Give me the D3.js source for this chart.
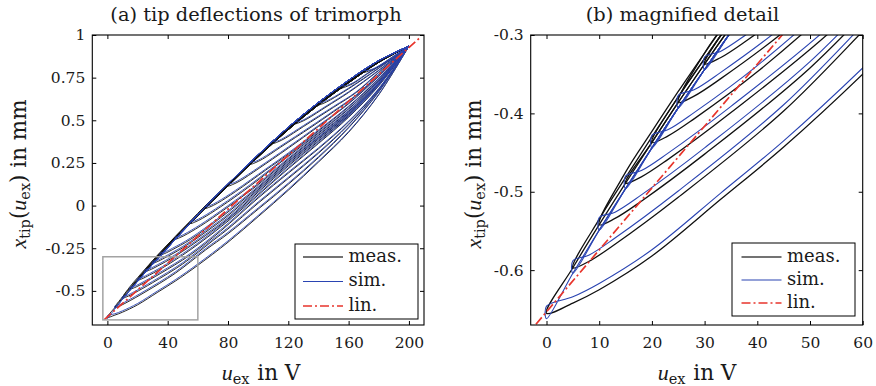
<!DOCTYPE html>
<html><head><meta charset="utf-8">
<script src="https://cdn.jsdelivr.net/npm/d3@7"></script>
<style>
body{margin:0;background:#fff}
svg{display:block}
text{font-family:"DejaVu Serif",serif;fill:#1a1a1a}
.tick text{font-size:15.5px}
.ttl{font-size:19.4px}
.lab{font-size:21.5px}
.leg{font-size:18px}
</style>
</head><body>
<svg id="c" width="876" height="386"></svg>
<script>
// ---------------- data ----------------
// reversal voltages of the first-order loops (u_min of each cycle, upper reversal at 200 V)
const tipsU = [0,5,10,15,20,25,30,35,45,55,65,80,95,110,125,140,155,170];

// descending branch (200 V -> 0 V), shared by every cycle
const descU      = [200,180,160,140,120,100,80,60,45,35,30,25,20,15,10,5,0];
const measDescA  = [0.935,0.84,0.72,0.59,0.445,0.285,0.115,-0.06,-0.196,-0.289,-0.337,-0.386,-0.437,-0.489,-0.542,-0.597,-0.655];
const measDescB  = [0.935,0.843,0.724,0.595,0.451,0.291,0.121,-0.053,-0.189,-0.282,-0.33,-0.379,-0.43,-0.482,-0.535,-0.59,-0.648];
const measDescC  = [0.935,0.846,0.728,0.6,0.457,0.297,0.127,-0.047,-0.182,-0.275,-0.323,-0.372,-0.423,-0.475,-0.528,-0.583,-0.641];
const simDesc    = [0.935,0.85,0.735,0.605,0.46,0.298,0.127,-0.052,-0.198,-0.296,-0.344,-0.393,-0.444,-0.496,-0.549,-0.604,-0.662];
const descVariant = [0,1,2,0,1,2,1,0,1,2,0,1,2,0,1,2,0,1];

// ascending branches (from each reversal point up to 200 V)
const ascU = [
 [0,5,10,20,33,45,60,80,100,120,140,160,180,200],
 [5,8,13,25,45,65,80,100,120,140,160,180,200],
 [10,13,18,30,50,70,80,100,120,140,160,180,200],
 [15,18,23,35,55,75,100,120,140,160,180,200],
 [20,23,28,40,60,80,100,120,140,160,180,200],
 [25,28,33,45,65,80,100,120,140,160,180,200],
 [30,33,38,50,70,80,100,120,140,160,180,200],
 [35,38,43,55,75,100,120,140,160,180,200],
 [45,48,53,65,85,100,120,140,160,180,200],
 [55,58,63,75,95,120,140,160,180,200],
 [65,68,73,85,105,120,140,160,180,200],
 [80,83,88,100,120,140,160,180,200],
 [95,98,103,115,135,150,165,180,200],
 [110,113,118,130,150,165,180,200],
 [125,128,133,145,160,180,200],
 [140,143,148,160,180,200],
 [155,158,163,175,190,200],
 [170,173,178,190,200]
];
const measAsc = [
 [-0.655,-0.642,-0.625,-0.582,-0.51,-0.443,-0.35,-0.215,-0.065,0.09,0.255,0.43,0.65,0.935],
 [-0.597,-0.589,-0.567,-0.507,-0.397,-0.261,-0.165,-0.021,0.125,0.281,0.456,0.667,0.935],
 [-0.542,-0.534,-0.512,-0.452,-0.342,-0.205,-0.137,0.014,0.159,0.307,0.474,0.676,0.935],
 [-0.489,-0.481,-0.459,-0.399,-0.289,-0.15,0.044,0.19,0.333,0.491,0.684,0.935],
 [-0.437,-0.429,-0.407,-0.347,-0.228,-0.091,0.062,0.216,0.364,0.518,0.702,0.935],
 [-0.386,-0.378,-0.356,-0.296,-0.176,-0.078,0.079,0.233,0.377,0.527,0.71,0.935],
 [-0.337,-0.329,-0.307,-0.247,-0.125,-0.059,0.093,0.246,0.39,0.535,0.715,0.935],
 [-0.289,-0.281,-0.259,-0.199,-0.072,0.106,0.259,0.399,0.544,0.719,0.935],
 [-0.196,-0.188,-0.166,-0.101,0.024,0.123,0.272,0.412,0.553,0.728,0.935],
 [-0.105,-0.097,-0.075,-0.008,0.117,0.289,0.425,0.566,0.736,0.935],
 [-0.016,-0.008,0.014,0.082,0.208,0.302,0.438,0.579,0.745,0.935],
 [0.115,0.123,0.145,0.215,0.337,0.464,0.597,0.758,0.935],
 [0.243,0.251,0.273,0.343,0.459,0.55,0.645,0.767,0.935],
 [0.365,0.373,0.395,0.463,0.576,0.663,0.78,0.935],
 [0.481,0.489,0.511,0.578,0.663,0.792,0.935],
 [0.59,0.598,0.62,0.685,0.805,0.935],
 [0.688,0.696,0.716,0.788,0.867,0.935],
 [0.78,0.788,0.806,0.876,0.935]
];
const simTipLow = [-0.662,-0.604,-0.549,-0.496,-0.444,-0.393,-0.344,-0.296,-0.198,-0.1,-0.008,0.127,0.255,0.377,0.494,0.605,0.702,0.792];
const simAsc = [
 [-0.646,-0.634,-0.617,-0.574,-0.502,-0.435,-0.342,-0.207,-0.058,0.0965,0.2605,0.434,0.6525,0.935],
 [-0.588,-0.581,-0.559,-0.499,-0.389,-0.253,-0.157,-0.014,0.1315,0.2865,0.46,0.6695,0.935],
 [-0.533,-0.526,-0.504,-0.444,-0.334,-0.197,-0.129,0.021,0.1655,0.3125,0.478,0.6785,0.935],
 [-0.48,-0.473,-0.451,-0.391,-0.281,-0.142,0.051,0.1965,0.3385,0.495,0.6865,0.935],
 [-0.428,-0.421,-0.399,-0.339,-0.22,-0.083,0.069,0.2225,0.3695,0.522,0.7045,0.935],
 [-0.377,-0.37,-0.348,-0.288,-0.168,-0.07,0.086,0.2395,0.3825,0.531,0.7125,0.935],
 [-0.328,-0.321,-0.299,-0.239,-0.117,-0.051,0.1,0.2525,0.3955,0.539,0.7175,0.935],
 [-0.28,-0.273,-0.251,-0.191,-0.064,0.113,0.2655,0.4045,0.548,0.7215,0.935],
 [-0.187,-0.18,-0.158,-0.093,0.0315,0.13,0.2785,0.4175,0.557,0.7305,0.935],
 [-0.096,-0.089,-0.067,0,0.1245,0.2955,0.4305,0.57,0.7385,0.935],
 [-0.007,0,0.022,0.0895,0.2145,0.3085,0.4435,0.583,0.7475,0.935],
 [0.127,0.131,0.153,0.222,0.3435,0.4695,0.601,0.7605,0.935],
 [0.255,0.2585,0.2805,0.3495,0.465,0.555,0.6485,0.7695,0.935],
 [0.377,0.3795,0.4015,0.469,0.581,0.6665,0.7825,0.935],
 [0.494,0.495,0.517,0.583,0.667,0.7945,0.935],
 [0.605,0.607,0.6255,0.689,0.8075,0.935],
 [0.702,0.703,0.72,0.791,0.8685,0.935],
 [0.792,0.793,0.809,0.8775,0.935]
];

// linear approximation
const linU = [-2, 207];
const linV = [-0.669, 0.982];

// axes
const xDomainA = [-10, 210], yDomainA = [-0.7, 1];
const xTicksA = [0,40,80,120,160,200], xTickLabelsA = ["0","40","80","120","160","200"];
const yTicksA = [1,0.75,0.5,0.25,0,-0.25,-0.5], yTickLabelsA = ["1","0.75","0.5","0.25","0","-0.25","-0.5"];
const xDomainB = [-3, 60], yDomainB = [-0.67, -0.3];
const xTicksB = [0,10,20,30,40,50,60], xTickLabelsB = ["0","10","20","30","40","50","60"];
const yTicksB = [-0.3,-0.4,-0.5,-0.6], yTickLabelsB = ["-0.3","-0.4","-0.5","-0.6"];
const titles = ["(a) tip deflections of trimorph", "(b) magnified detail"];
const legendLabels = ["meas.", "sim.", "lin."];

// ---------------- drawing ----------------
const measColor = "#111", simColor = "#2a44b2", linColor = "#e8352c", boxColor = "#a3a3a3";
const svg = d3.select("#c");
const defs = svg.append("defs");
const measDescs = [measDescA, measDescB, measDescC];

function measLoop(k) {
  const m = tipsU[k], dv = measDescs[descVariant[k]];
  const pts = [];
  descU.forEach((u, i) => { if (u > m) pts.push([u, dv[i]]); });
  ascU[k].forEach((u, i) => pts.push([u, measAsc[k][i]]));
  return pts;
}
function simLoop(k) {
  const m = tipsU[k];
  const pts = [];
  descU.forEach((u, i) => { if (u > m) pts.push([u, simDesc[i]]); });
  pts.push([m, simTipLow[k]]);
  ascU[k].forEach((u, i) => pts.push([u, simAsc[k][i]]));
  return pts;
}

function panel(o) {
  const x = d3.scaleLinear().domain(o.xd).range([o.x0, o.x1]);
  const y = d3.scaleLinear().domain(o.yd).range([o.y1, o.y0]);
  defs.append("clipPath").attr("id", o.id).append("rect")
    .attr("x", o.x0).attr("y", o.y0).attr("width", o.x1 - o.x0).attr("height", o.y1 - o.y0);
  const plot = svg.append("g").attr("clip-path", `url(#${o.id})`);
  const lm = d3.line().x(d => x(d[0])).y(d => y(d[1])).curve(d3.curveCatmullRom.alpha(0.5));
  const ls = d3.line().x(d => x(d[0])).y(d => y(d[1])).curve(d3.curveCatmullRom.alpha(0.5));
  const ll = d3.line().x(d => x(d[0])).y(d => y(d[1]));
  tipsU.forEach((m, k) => plot.append("path").attr("d", lm(measLoop(k)))
    .attr("fill", "none").attr("stroke", measColor).attr("stroke-width", o.wm));
  tipsU.forEach((m, k) => plot.append("path").attr("d", ls(simLoop(k)))
    .attr("fill", "none").attr("stroke", simColor).attr("stroke-width", o.ws).attr("stroke-linejoin", "round"));
  plot.append("path").attr("d", ll(linU.map((u, i) => [u, linV[i]])))
    .attr("fill", "none").attr("stroke", linColor).attr("stroke-width", 1.7)
    .attr("stroke-dasharray", "9,3,2,3");
  if (o.zoomBox) {
    svg.append("rect").attr("x", x(xDomainB[0])).attr("y", y(yDomainB[1]))
      .attr("width", x(xDomainB[1]) - x(xDomainB[0])).attr("height", y(yDomainB[0]) - y(yDomainB[1]))
      .attr("fill", "none").attr("stroke", boxColor).attr("stroke-width", 1.5);
  }
  // axes
  const fix = g => { g.attr("font-size", null).attr("font-family", null).attr("color", "#000"); g.select(".domain").remove(); };
  svg.append("g").attr("transform", `translate(0,${o.y1})`)
    .call(d3.axisBottom(x).tickValues(o.xt).tickFormat((d, i) => o.xl[i]).tickSize(-4).tickPadding(12)).call(fix);
  svg.append("g").attr("transform", `translate(0,${o.y0})`)
    .call(d3.axisTop(x).tickValues(o.xt).tickFormat("").tickSize(-4)).call(fix);
  svg.append("g").attr("transform", `translate(${o.x0},0)`)
    .call(d3.axisLeft(y).tickValues(o.yt).tickFormat((d, i) => o.yl[i]).tickSize(-4).tickPadding(7)).call(fix);
  svg.append("g").attr("transform", `translate(${o.x1},0)`)
    .call(d3.axisRight(y).tickValues(o.yt).tickFormat("").tickSize(-4)).call(fix);
  svg.append("rect").attr("x", o.x0).attr("y", o.y0).attr("width", o.x1 - o.x0).attr("height", o.y1 - o.y0)
    .attr("fill", "none").attr("stroke", "#000").attr("stroke-width", 1.1);
  // title
  svg.append("text").attr("class", "ttl").attr("x", o.tx).attr("y", 21).attr("text-anchor", "middle").text(o.title);
  // x label
  const xl = svg.append("text").attr("class", "lab").attr("x", o.xlx).attr("y", 380).attr("text-anchor", "middle");
  xl.append("tspan").attr("font-family", "Liberation Serif").attr("font-style", "italic").attr("font-size", 22).text("u");
  xl.append("tspan").attr("font-size", 14.5).attr("dy", 4).text("ex");
  xl.append("tspan").attr("dy", -4).attr("dx", 1).text(" in V");
  // y label
  const yl = svg.append("text").attr("class", "lab").attr("text-anchor", "middle")
    .attr("transform", `translate(${o.ylx},174) rotate(-90)`);
  yl.append("tspan").attr("font-family", "Liberation Serif").attr("font-style", "italic").attr("font-size", 22).text("x");
  yl.append("tspan").attr("font-size", 14.5).attr("dy", 4).text("tip");
  yl.append("tspan").attr("dy", -4).text("(");
  yl.append("tspan").attr("font-family", "Liberation Serif").attr("font-style", "italic").attr("font-size", 22).text("u");
  yl.append("tspan").attr("font-size", 14.5).attr("dy", 4).text("ex");
  yl.append("tspan").attr("dy", -4).text(") in mm");
  // legend
  const lg = o.leg;
  svg.append("rect").attr("x", lg.x).attr("y", lg.y).attr("width", lg.w).attr("height", lg.h)
    .attr("fill", "#fff").attr("stroke", "#000").attr("stroke-width", 1);
  const styles = [
    {c: "#444", w: 1.3, d: null},
    {c: simColor, w: 1.1, d: null},
    {c: linColor, w: 1.7, d: "9,3,2,3"}
  ];
  legendLabels.forEach((t, i) => {
    const yy = lg.ey[i];
    svg.append("line").attr("x1", lg.lx0).attr("x2", lg.lx1).attr("y1", yy).attr("y2", yy)
      .attr("stroke", styles[i].c).attr("stroke-width", styles[i].w).attr("stroke-dasharray", styles[i].d);
    svg.append("text").attr("class", "leg").attr("x", lg.tx).attr("y", yy + 4.6).text(t);
  });
}

panel({id: "clipA", xd: xDomainA, yd: yDomainA, x0: 92.3, x1: 424, y0: 35, y1: 325,
  xt: xTicksA, xl: xTickLabelsA, yt: yTicksA, yl: yTickLabelsA, wm: 0.9, ws: 0.9, zoomBox: true,
  title: titles[0], tx: 256, xlx: 261, ylx: 26,
  leg: {x: 295, y: 244, w: 123, h: 75, ey: [257, 281.5, 306], lx0: 303, lx1: 343, tx: 348.5}});
panel({id: "clipB", xd: xDomainB, yd: yDomainB, x0: 530.7, x1: 862.7, y0: 35, y1: 325,
  xt: xTicksB, xl: xTickLabelsB, yt: yTicksB, yl: yTickLabelsB, wm: 1.3, ws: 1.1, zoomBox: false,
  title: titles[1], tx: 682.5, xlx: 697, ylx: 481,
  leg: {x: 732, y: 243, w: 123, h: 73, ey: [257, 280, 303], lx0: 741.5, lx1: 781.5, tx: 787}});
</script>
</body></html>
